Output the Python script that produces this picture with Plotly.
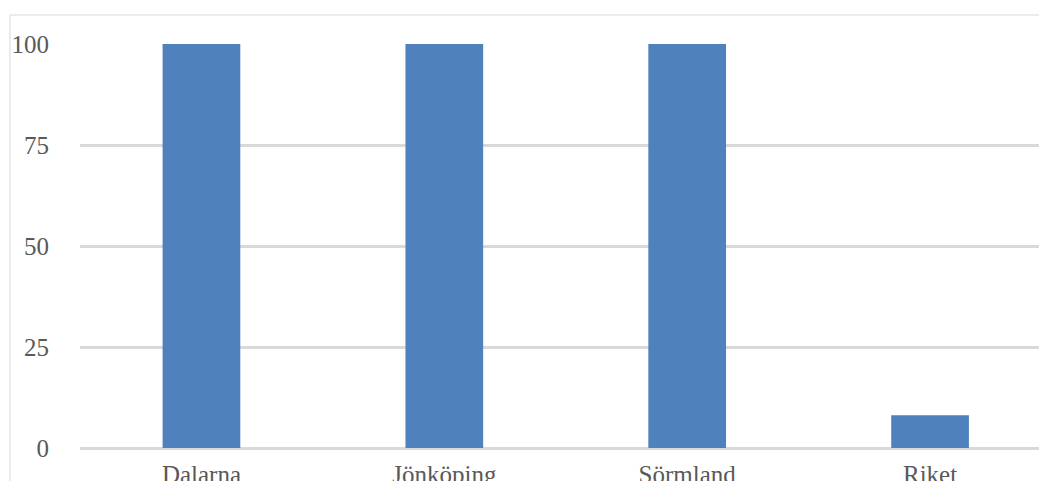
import plotly.graph_objects as go

categories = ["Dalarna", "Jönköping", "Sörmland", "Riket"]
values = [100, 100, 100, 8.1]
y_ticks = [0, 25, 50, 75, 100]

W, H = 1039, 481
ml, mr, mt, mb = 80, 0, 44, 33
pw = W - ml - mr
ph = H - mt - mb

fig = go.Figure(go.Bar(x=categories, y=values, marker_color="#4f81bd",
                       marker_line_width=0, width=0.32))

font = dict(family="Liberation Serif, DejaVu Serif, serif", size=25, color="#595959")

fig.update_layout(
    width=W, height=H,
    margin=dict(l=ml, r=mr, t=mt, b=mb, pad=0, autoexpand=False),
    paper_bgcolor="white", plot_bgcolor="white",
    showlegend=False,
    font=font,
    xaxis=dict(range=[-0.5, 3.5 - 12.5 / 243], showgrid=False, zeroline=False,
               showline=False, ticks="", tickfont=font, ticklabelstandoff=9,
               automargin=False),
    yaxis=dict(range=[0, 100], tickvals=y_ticks, showgrid=True, gridcolor="#d9d9d9",
               gridwidth=2.5, zeroline=True, zerolinecolor="#d9d9d9", zerolinewidth=2.5,
               showline=False, ticks="", tickfont=font, ticklabelstandoff=30,
               automargin=False),
    shapes=[dict(type="rect", xref="paper", yref="paper",
                 x0=(10 - ml) / pw, x1=1.2, y0=-0.5, y1=1 + (mt - 15) / ph,
                 line=dict(color="#d9d9d9", width=1), fillcolor="rgba(0,0,0,0)",
                 layer="below")],
)

fig.write_html("out.html")
